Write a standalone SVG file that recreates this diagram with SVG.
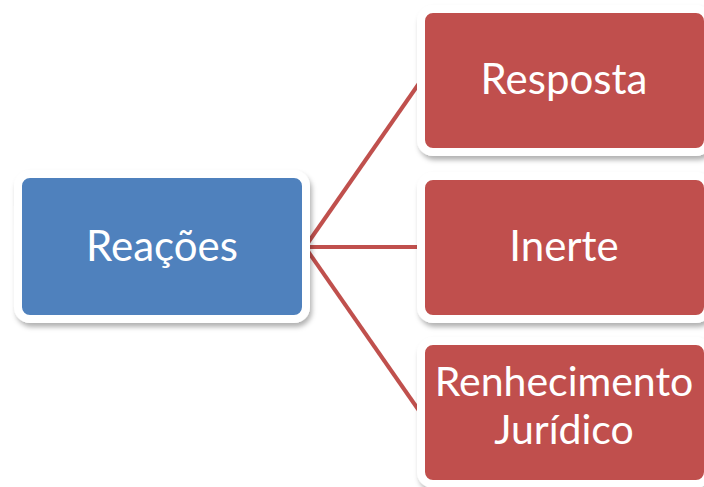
<svg xmlns="http://www.w3.org/2000/svg" width="704" height="487" viewBox="0 0 704 487">
<defs>
<style>
.box{stroke:#ffffff;stroke-width:8;filter:url(#sh)}
.blue{fill:#4f81bd}
.red{fill:#c0504d}
.lbl{font-family:Lato,"Open Sans","Liberation Sans",sans-serif;font-size:42px;fill:#ffffff;text-anchor:middle}
.two{font-size:41px}
.conn{stroke:#c0504d;stroke-width:4;fill:none}
</style>
<filter id="sh" x="-10%" y="-10%" width="125%" height="130%">
<feDropShadow dx="2" dy="4" stdDeviation="2.5" flood-color="#000000" flood-opacity="0.3"/>
</filter>
</defs>
<rect width="704" height="487" fill="#ffffff"/>
<g id="connectors">
<line class="conn" x1="305" y1="247" x2="420" y2="82"/>
<line class="conn" x1="305" y1="247" x2="420" y2="247"/>
<line class="conn" x1="305" y1="247" x2="420" y2="412"/>
</g>
<g id="node-reacoes">
<rect class="box blue" x="18" y="174" width="288" height="145" rx="12"/>
<text class="lbl" x="162" y="261">Reações</text>
</g>
<g id="node-resposta">
<rect class="box red" x="421" y="9" width="287" height="143" rx="12"/>
<text class="lbl" x="564" y="94">Resposta</text>
</g>
<g id="node-inerte">
<rect class="box red" x="421" y="176" width="287" height="143" rx="12"/>
<text class="lbl" x="564" y="261">Inerte</text>
</g>
<g id="node-renhecimento">
<rect class="box red" x="421" y="341" width="287" height="143" rx="12"/>
<text class="lbl two" x="564" y="396">Renhecimento</text>
<text class="lbl two" x="564" y="444">Jurídico</text>
</g>
</svg>
